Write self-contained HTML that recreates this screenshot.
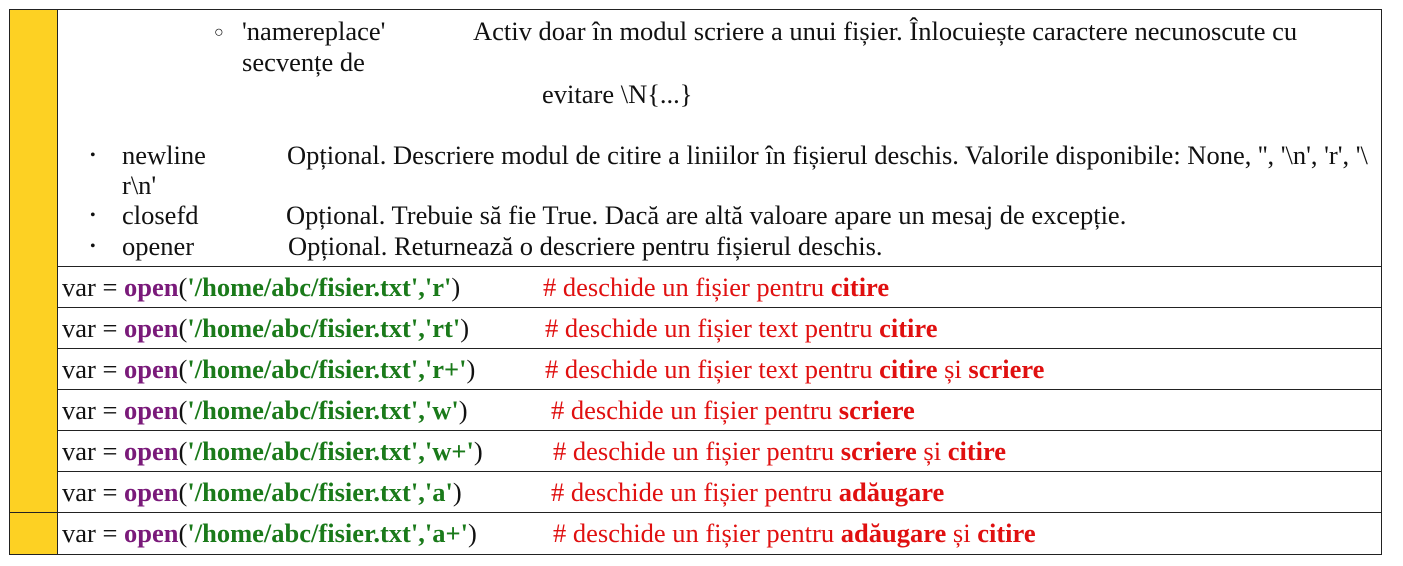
<!DOCTYPE html>
<html><head><meta charset="utf-8">
<style>
body{margin:0;width:1403px;height:566px;background:#fff;position:relative;overflow:hidden;font-family:"Liberation Serif",serif;font-size:26.5px;color:#111}
.t{position:absolute;white-space:nowrap;line-height:30px}
.h{position:absolute;background:#222;height:1px}
.v{position:absolute;background:#222;width:1px}
.p{color:#7a1a7a;font-weight:bold}
.g{color:#1a7a1a;font-weight:bold}
.r{color:#e01010}
.b{font-weight:bold}
</style></head><body>
<div style="position:absolute;left:10px;top:10px;width:47px;height:544px;background:#fdd123"></div>
<div class="h" style="left:9px;top:9px;width:1373px"></div>
<div class="h" style="left:9px;top:554px;width:1373px"></div>
<div class="v" style="left:9px;top:9px;height:546px"></div>
<div class="v" style="left:1381px;top:9px;height:546px"></div>
<div class="v" style="left:57px;top:9px;height:546px"></div>
<div class="h" style="left:57px;top:266px;width:1325px"></div>
<div class="h" style="left:57px;top:307px;width:1325px"></div>
<div class="h" style="left:57px;top:348px;width:1325px"></div>
<div class="h" style="left:57px;top:389px;width:1325px"></div>
<div class="h" style="left:57px;top:430px;width:1325px"></div>
<div class="h" style="left:57px;top:471px;width:1325px"></div>
<div class="h" style="left:9px;top:512px;width:1373px"></div>

<span class="t" style="left:214px;top:18px;font-size:16px">○</span>
<span class="t" style="left:242px;top:16px">'namereplace'</span>
<span class="t" style="left:473px;top:16px">Activ doar în modul scriere a unui fișier. Înlocuiește caractere necunoscute cu</span>
<span class="t" style="left:242px;top:47px">secvențe de</span>
<span class="t" style="left:542px;top:79px">evitare \N{...}</span>

<span class="t" style="left:90px;top:141px;font-size:16px">•</span>
<span class="t" style="left:122px;top:140px">newline</span>
<span class="t" style="left:287px;top:140px">Opțional. Descriere modul de citire a liniilor în fișierul deschis. Valorile disponibile: None, '', '\n', 'r', '\</span>
<span class="t" style="left:122px;top:170px">r\n'</span>
<span class="t" style="left:90px;top:201px;font-size:16px">•</span>
<span class="t" style="left:122px;top:200px">closefd</span>
<span class="t" style="left:286px;top:200px">Opțional. Trebuie să fie True. Dacă are altă valoare apare un mesaj de excepție.</span>
<span class="t" style="left:90px;top:232px;font-size:16px">•</span>
<span class="t" style="left:122px;top:231px">opener</span>
<span class="t" style="left:288px;top:231px">Opțional. Returnează o descriere pentru fișierul deschis.</span>

<span class="t" style="left:62px;top:272px">var = <span class="p">open</span>(<span class="g">'/home/abc/fisier.txt','r'</span>)</span>
<span class="t r" style="left:543px;top:272px"># deschide un fișier pentru <b>citire</b></span>
<span class="t" style="left:62px;top:313px">var = <span class="p">open</span>(<span class="g">'/home/abc/fisier.txt','rt'</span>)</span>
<span class="t r" style="left:545px;top:313px"># deschide un fișier text pentru <b>citire</b></span>
<span class="t" style="left:62px;top:354px">var = <span class="p">open</span>(<span class="g">'/home/abc/fisier.txt','r+'</span>)</span>
<span class="t r" style="left:545px;top:354px"># deschide un fișier text pentru <b>citire</b> și <b>scriere</b></span>
<span class="t" style="left:62px;top:395px">var = <span class="p">open</span>(<span class="g">'/home/abc/fisier.txt','w'</span>)</span>
<span class="t r" style="left:551px;top:395px"># deschide un fișier pentru <b>scriere</b></span>
<span class="t" style="left:62px;top:436px">var = <span class="p">open</span>(<span class="g">'/home/abc/fisier.txt','w+'</span>)</span>
<span class="t r" style="left:553px;top:436px"># deschide un fișier pentru <b>scriere</b> și <b>citire</b></span>
<span class="t" style="left:62px;top:477px">var = <span class="p">open</span>(<span class="g">'/home/abc/fisier.txt','a'</span>)</span>
<span class="t r" style="left:551px;top:477px"># deschide un fișier pentru <b>adăugare</b></span>
<span class="t" style="left:62px;top:518px">var = <span class="p">open</span>(<span class="g">'/home/abc/fisier.txt','a+'</span>)</span>
<span class="t r" style="left:553px;top:518px"># deschide un fișier pentru <b>adăugare</b> și <b>citire</b></span>
</body></html>
